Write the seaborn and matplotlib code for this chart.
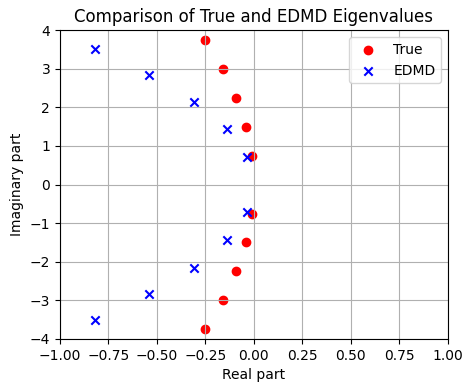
import matplotlib
matplotlib.use("Agg")
import matplotlib.pyplot as plt
import seaborn as sns
import numpy as np

true_real = [-0.25, -0.16, -0.09, -0.04, -0.01, -0.01, -0.04, -0.09, -0.16, -0.25]
true_imag = [3.75, 3.0, 2.25, 1.5, 0.75, -0.75, -1.5, -2.25, -3.0, -3.75]
edmd_real = [-0.82, -0.54, -0.31, -0.14, -0.035, -0.035, -0.14, -0.31, -0.54, -0.82]
edmd_imag = [3.5, 2.83, 2.15, 1.44, 0.72, -0.72, -1.44, -2.15, -2.83, -3.5]

fig, ax = plt.subplots(figsize=(4.72, 3.91), dpi=100)
fig.subplots_adjust(left=0.127, right=0.949, top=0.923, bottom=0.133)

sns.scatterplot(x=true_real, y=true_imag, color="red", marker="o", s=36,
                edgecolor="red", linewidth=1, label="True", ax=ax)
sns.scatterplot(x=edmd_real, y=edmd_imag, color="blue", marker="x", s=36,
                linewidth=1.5, label="EDMD", ax=ax)

ax.set_xlim(-1, 1)
ax.set_ylim(-4, 4)
ax.set_xticks(np.arange(-1, 1.01, 0.25))
ax.set_xlabel("Real part")
ax.set_ylabel("Imaginary part")
ax.set_title("Comparison of True and EDMD Eigenvalues")
ax.grid(True)
ax.legend(loc="upper right")
fig.savefig("out.png", dpi=100)
